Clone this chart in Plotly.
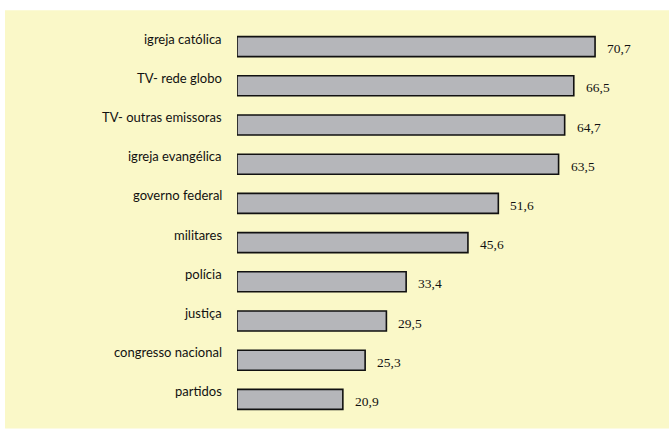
import plotly.graph_objects as go

categories = ["igreja católica", "TV- rede globo", "TV- outras emissoras", "igreja evangélica",
              "governo federal", "militares", "polícia", "justiça", "congresso nacional", "partidos"]
values = [70.7, 66.5, 64.7, 63.5, 51.6, 45.6, 33.4, 29.5, 25.3, 20.9]
value_labels = ["70,7", "66,5", "64,7", "63,5", "51,6", "45,6", "33,4", "29,5", "25,3", "20,9"]

fig = go.Figure()
fig.add_trace(go.Bar(
    x=values, y=categories, orientation="h",
    marker=dict(color="#B5B6BA", line=dict(color="#111111", width=1.6)),
    hoverinfo="skip",
))

annotations = []
for c, v, t in zip(categories, values, value_labels):
    annotations.append(dict(x=v, y=c, xref="x", yref="y", text=t, showarrow=False,
                            xanchor="left", yanchor="middle", xshift=10, yshift=-2,
                            font=dict(family="Liberation Serif", size=13.5, color="#111")))
    annotations.append(dict(x=0, y=c, xref="x", yref="y", text=c, showarrow=False,
                            xanchor="right", yanchor="middle", xshift=-13, yshift=8,
                            font=dict(family="Lato", size=13, color="#111")))

fig.update_layout(
    width=669, height=435,
    margin=dict(l=237, r=0, t=27, b=16, autoexpand=False),
    paper_bgcolor="white",
    plot_bgcolor="rgba(0,0,0,0)",
    showlegend=False,
    bargap=0.49,
    xaxis=dict(range=[0, 85.3], visible=False, fixedrange=True),
    yaxis=dict(autorange="reversed", showticklabels=False, showgrid=False, zeroline=False,
               showline=False, ticks="", fixedrange=True),
    annotations=annotations,
    shapes=[dict(type="rect", xref="paper", yref="paper", x0=-0.537, x1=1.0, y0=-0.024, y1=1.043,
                 fillcolor="#FAF8C8", line=dict(width=0), layer="below")],
)

fig.write_html("out.html", config={"displayModeBar": False},
               post_script="document.body.style.margin='0';document.body.style.overflow='hidden';")
